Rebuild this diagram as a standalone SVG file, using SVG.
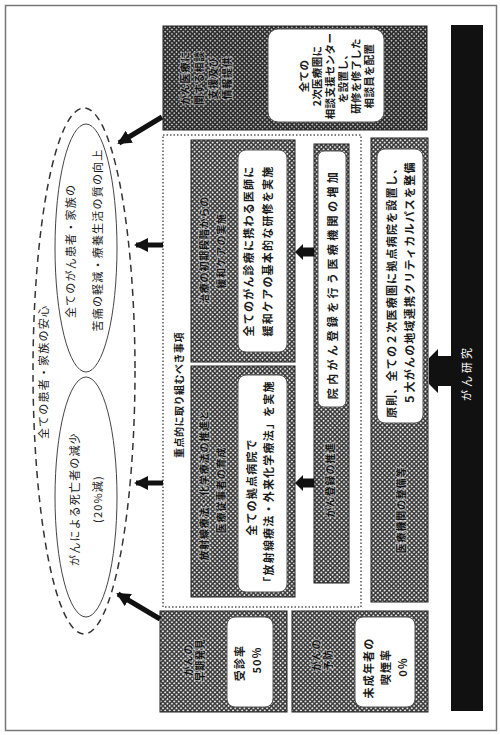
<svg xmlns="http://www.w3.org/2000/svg" width="500" height="735" viewBox="0 0 500 735">
  <defs>
    <pattern id="dots" width="3.2" height="3.2" patternUnits="userSpaceOnUse" patternTransform="rotate(45)">
      <rect width="3.2" height="3.2" fill="#383838"/>
      <circle cx="1.6" cy="1.6" r="1.0" fill="#e6e6e6"/>
    </pattern>
    <pattern id="dotsDark" width="3.2" height="3.2" patternUnits="userSpaceOnUse" patternTransform="rotate(45)">
      <rect width="3.2" height="3.2" fill="#2e2e2e"/>
      <circle cx="1.6" cy="1.6" r="0.85" fill="#dcdcdc"/>
    </pattern>
    <marker id="ah" markerUnits="userSpaceOnUse" markerWidth="14" markerHeight="14" viewBox="0 0 14 14" refX="12" refY="7" orient="auto">
      <path d="M0,0 L14,7 L0,14 z" fill="#111"/>
    </marker>
    <style>
      .t { font-family: "Noto Sans CJK JP", "Noto Sans CJK SC", sans-serif; font-size: 11px; fill: #1a1a1a; text-anchor: middle; dominant-baseline: central; letter-spacing: 1.2px; }
      .b { font-weight: 700; }
      .s { font-size: 10.5px; letter-spacing: 0.3px; }
      .lab { font-family: "Noto Sans CJK JP", "Noto Sans CJK SC", sans-serif; font-size: 10px; font-weight: 700; fill: #111; text-anchor: middle; dominant-baseline: central; letter-spacing: 0.8px; stroke: rgba(225,225,225,0.55); stroke-width: 2px; paint-order: stroke; }
      .hatch { fill: url(#dots); stroke: #222; stroke-width: 1; }
      .hatchDark { fill: url(#dotsDark); stroke: #222; stroke-width: 1; }
      .card { fill: #fff; stroke: #555; stroke-width: 1; }
      .arrow { stroke: #111; stroke-width: 5; fill: none; marker-end: url(#ah); }
    </style>
  </defs>

  <!-- page frame -->
  <rect x="5.5" y="5.5" width="491" height="725" fill="#fff" stroke="#777" stroke-width="1.5"/>

  <!-- overall goals -->
  <g id="goal-outer">
    <ellipse cx="84" cy="371" rx="51" ry="263" fill="none" stroke="#333" stroke-width="1.5" stroke-dasharray="7 5"/>
    <text class="t" transform="translate(43,372) rotate(-90)">全ての患者・家族の安心</text>
  </g>
  <g id="goal-qol">
    <ellipse cx="86" cy="248" rx="31" ry="124" fill="none" stroke="#444" stroke-width="1"/>
    <text class="t" transform="translate(70,251) rotate(-90)">全てのがん患者・家族の</text>
    <text class="t" transform="translate(97,240) rotate(-90)">苦痛の軽減・療養生活の質の向上</text>
  </g>
  <g id="goal-death">
    <ellipse cx="86" cy="497" rx="31" ry="120" fill="none" stroke="#444" stroke-width="1"/>
    <text class="t" transform="translate(74,499) rotate(-90)">がんによる死亡者の減少</text>
    <text class="t" transform="translate(97,499) rotate(-90)">(20%減)</text>
  </g>

  <!-- consultation support -->
  <g id="consult">
    <rect class="hatchDark" x="163" y="26" width="264" height="104"/>
    <text class="lab" transform="translate(184,78) rotate(-90)">がん医療に</text>
    <text class="lab" transform="translate(198,78) rotate(-90)">関する相談</text>
    <text class="lab" transform="translate(212,78) rotate(-90)">支援及び</text>
    <text class="lab" transform="translate(226,78) rotate(-90)">情報提供</text>
    <rect class="card" x="268" y="29" width="116" height="93" rx="10"/>
    <text class="t b s" transform="translate(303,76) rotate(-90)">全ての</text>
    <text class="t b s" transform="translate(316,76) rotate(-90)">2次医療圏に</text>
    <text class="t b s" transform="translate(329,76) rotate(-90)">相談支援センター</text>
    <text class="t b s" transform="translate(342,76) rotate(-90)">を設置し、</text>
    <text class="t b s" transform="translate(355,76) rotate(-90)">研修を修了した</text>
    <text class="t b s" transform="translate(368,76) rotate(-90)">相談員を配置</text>
  </g>

  <!-- priority issues frame -->
  <g id="priority">
    <rect x="163" y="135" width="198" height="472" fill="none" stroke="#555" stroke-width="1.5" stroke-dasharray="1.5 2"/>
    <text class="t b" style="font-size:10px;letter-spacing:0.5px" transform="translate(178,395) rotate(-90)">重点的に取り組むべき事項</text>
  </g>

  <g id="palliative">
    <rect class="hatch" x="191" y="140" width="104" height="222"/>
    <text class="lab" transform="translate(203,250) rotate(-90)">治療の初期段階からの</text>
    <text class="lab" transform="translate(220,251) rotate(-90)">緩和ケアの実施</text>
    <rect class="card" x="238" y="150" width="49" height="202" rx="8"/>
    <text class="t b" transform="translate(248,251) rotate(-90)">全てのがん診療に携わる医師に</text>
    <text class="t b" transform="translate(267,251) rotate(-90)">緩和ケアの基本的な研修を実施</text>
  </g>

  <g id="radiation">
    <rect class="hatch" x="191" y="366" width="104" height="231"/>
    <text class="lab" transform="translate(203,485) rotate(-90)">放射線療法・化学療法の推進と</text>
    <text class="lab" transform="translate(220,490) rotate(-90)">医療従事者の育成</text>
    <rect class="card" x="238" y="375" width="49" height="217" rx="8"/>
    <text class="t b" transform="translate(251,487) rotate(-90)">全ての拠点病院で</text>
    <text class="t b" transform="translate(268,484) rotate(-90)">「放射線療法・外来化学療法」を実施</text>
  </g>

  <g id="registry">
    <rect class="hatch" x="314" y="144" width="35" height="439"/>
    <rect class="card" x="318" y="151" width="28" height="256" rx="6"/>
    <text class="t b" style="letter-spacing:3.4px" transform="translate(332,284) rotate(-90)">院内がん登録を行う医療機関の増加</text>
    <text class="lab" transform="translate(329,480) rotate(-90)">がん登録の推進</text>
  </g>

  <g id="facilities">
    <rect class="hatch" x="371" y="138" width="57" height="464"/>
    <rect class="card" x="377" y="149" width="46" height="274" rx="8"/>
    <text class="t b" transform="translate(391,290) rotate(-90)">原則、全ての２次医療圏に拠点病院を設置し、</text>
    <text class="t b" transform="translate(409,283) rotate(-90)">５大がんの地域連携クリティカルパスを整備</text>
    <text class="lab" transform="translate(400,510) rotate(-90)">医療機関の整備等</text>
  </g>

  <g id="screening">
    <rect class="hatch" x="160" y="611" width="127" height="101"/>
    <text class="lab" transform="translate(187,660) rotate(-90)">がんの</text>
    <text class="lab" transform="translate(199,660) rotate(-90)">早期発見</text>
    <rect class="card" x="227" y="617" width="46" height="90" rx="8"/>
    <text class="t b" transform="translate(239,663) rotate(-90)">受診率</text>
    <text class="t b" transform="translate(256,660) rotate(-90)">50%</text>
  </g>

  <g id="prevention">
    <rect class="hatch" x="292" y="611" width="136" height="101"/>
    <text class="lab" transform="translate(315,655) rotate(-90)">がんの</text>
    <text class="lab" transform="translate(327,660) rotate(-90)">予防</text>
    <rect class="card" x="355" y="617" width="60" height="90" rx="8"/>
    <text class="t b" transform="translate(368,668) rotate(-90)">未成年者の</text>
    <text class="t b" transform="translate(385,667) rotate(-90)">喫煙率</text>
    <text class="t b" transform="translate(402,667) rotate(-90)">0%</text>
  </g>

  <g id="research">
    <rect x="451" y="25" width="32" height="686" fill="#111"/>
    <text class="t" style="fill:#fff;letter-spacing:3px" transform="translate(466,373) rotate(-90)">がん研究</text>
  </g>

  <!-- connectors -->
  <g id="connectors">
    <line class="arrow" x1="162" y1="117" x2="119" y2="143"/>
    <line class="arrow" x1="163" y1="245" x2="136" y2="245"/>
    <line class="arrow" x1="163" y1="483" x2="136" y2="483"/>
    <line class="arrow" x1="160" y1="619" x2="118" y2="594"/>
    <path d="M314,247.5 L303,247.5 L303,244 L295,252 L303,260 L303,256.5 L314,256.5 z" fill="#111"/>
    <path d="M314,478.5 L303,478.5 L303,475 L295,483 L303,491 L303,487.5 L314,487.5 z" fill="#111"/>
    <path d="M451,356 L438,356 L438,349 L429,358 L429,384 L438,393 L438,386 L451,386 z" fill="#111"/>
  </g>
</svg>
